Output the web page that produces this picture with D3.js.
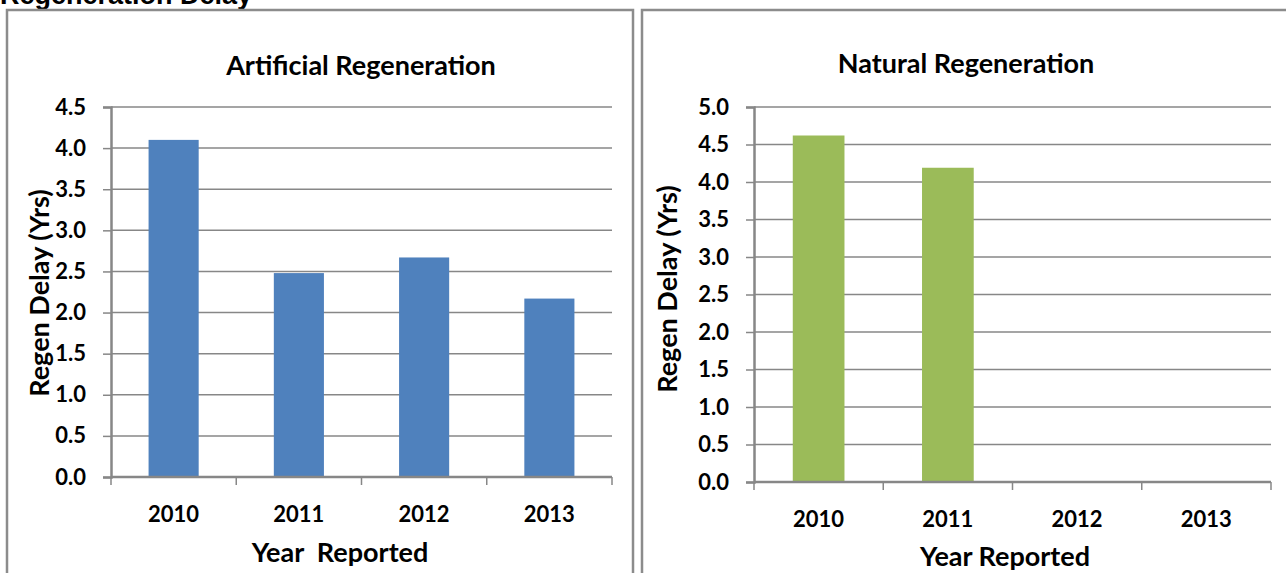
<!DOCTYPE html>
<html>
<head>
<meta charset="utf-8">
<script src="https://cdn.jsdelivr.net/npm/d3@7"></script>
<style>
  body { margin: 0; background: #fff; }
  text { font-family: Lato, "Open Sans", sans-serif; font-weight: bold; fill: #000; }
</style>
</head>
<body>
<div id="chart"></div>
<script>
const years = ['2010', '2011', '2012', '2013'];
const artificialDelay = [4.1, 2.48, 2.67, 2.17];
const naturalDelay = [4.62, 4.19, null, null];
const artificialTicks = [0, 0.5, 1, 1.5, 2, 2.5, 3, 3.5, 4, 4.5];
const naturalTicks = [0, 0.5, 1, 1.5, 2, 2.5, 3, 3.5, 4, 4.5, 5];

const svg = d3.select('#chart')
    .append('svg')
    .attr('width', 1286)
    .attr('height', 573);

svg.append('rect')
    .attr('width', 1286)
    .attr('height', 573)
    .attr('fill', '#fff');

// page heading, mostly cut off at the top
svg.append('text')
    .attr('x', 0)
    .attr('y', 4)
    .style('font-family', '"Liberation Sans", Arial, sans-serif')
    .style('font-size', '27px')
    .text('Regeneration Delay');

const gray = '#878787';

const barPanel = (props) => {
    const {
        box,
        title,
        titleX,
        titleY,
        xLabel,
        xLabelX,
        values,
        ticks,
        yMax,
        color,
        plot,
        tickLabelY,
        xLabelY,
        yLabelX,
        yLabelY
    } = props;

    svg.append('rect')
        .attr('x', box.x)
        .attr('y', box.y)
        .attr('width', box.w)
        .attr('height', box.h)
        .attr('fill', 'none')
        .attr('stroke', '#8c8c8c')
        .attr('stroke-width', 2.5);

    const xScale = d3.scaleBand()
        .domain(years)
        .range([plot.left, plot.right])
        .paddingInner(0.6)
        .paddingOuter(0.3);

    const yScale = d3.scaleLinear()
        .domain([0, yMax])
        .range([plot.bottom, plot.top]);

    const g = svg.append('g');

    // gridlines
    g.selectAll('.grid')
        .data(ticks.filter(t => t > 0))
        .enter()
        .append('line')
        .attr('x1', plot.left)
        .attr('x2', plot.right)
        .attr('y1', d => yScale(d))
        .attr('y2', d => yScale(d))
        .attr('stroke', gray)
        .attr('stroke-width', 1.5);

    // bars
    const rows = years.map((y, i) => ({ year: y, value: values[i] }))
        .filter(d => d.value != null);

    g.selectAll('.bar')
        .data(rows)
        .enter()
        .append('rect')
        .attr('x', d => xScale(d.year))
        .attr('width', xScale.bandwidth())
        .attr('y', d => yScale(d.value))
        .attr('height', d => yScale(0) - yScale(d.value))
        .attr('fill', color);

    // y axis
    const yAxis = g.append('g')
        .attr('transform', `translate(${plot.left},0)`)
        .call(d3.axisLeft(yScale)
            .tickValues(ticks)
            .tickSize(8)
            .tickPadding(17)
            .tickFormat(d3.format('.1f')));
    yAxis.select('.domain').attr('stroke', gray).attr('stroke-width', 2.5);
    yAxis.selectAll('.tick line').attr('stroke', gray).attr('stroke-width', 1.5);
    yAxis.selectAll('.tick text')
        .style('font-size', '22px')
        .attr('fill', '#000');

    // x axis with ticks on band boundaries
    const xAxis = g.append('g')
        .attr('transform', `translate(0,${plot.bottom})`);
    xAxis.append('line')
        .attr('x1', plot.left)
        .attr('x2', plot.right)
        .attr('stroke', gray)
        .attr('stroke-width', 2.5);
    const step = xScale.step();
    xAxis.selectAll('.xtick')
        .data(d3.range(years.length + 1))
        .enter()
        .append('line')
        .attr('x1', i => plot.left + i * step)
        .attr('x2', i => plot.left + i * step)
        .attr('y1', 0)
        .attr('y2', 8)
        .attr('stroke', gray)
        .attr('stroke-width', 1.5);

    g.selectAll('.xlabel')
        .data(years)
        .enter()
        .append('text')
        .attr('x', d => xScale(d) + xScale.bandwidth() / 2)
        .attr('y', tickLabelY)
        .attr('text-anchor', 'middle')
        .attr('dominant-baseline', 'central')
        .style('font-size', '22px')
        .text(d => d);

    g.append('text')
        .attr('x', titleX)
        .attr('y', titleY)
        .attr('text-anchor', 'middle')
        .attr('dominant-baseline', 'central')
        .style('font-size', '27px')
        .text(title);

    g.append('text')
        .attr('x', xLabelX)
        .attr('y', xLabelY)
        .attr('text-anchor', 'middle')
        .attr('dominant-baseline', 'central')
        .style('font-size', '27px')
        .style('white-space', 'pre')
        .attr('xml:space', 'preserve')
        .text(xLabel);

    g.append('text')
        .attr('transform', `translate(${yLabelX},${yLabelY}) rotate(-90)`)
        .attr('text-anchor', 'middle')
        .attr('dominant-baseline', 'central')
        .style('font-size', '27px')
        .text('Regen Delay (Yrs)');
};

barPanel({
    box: { x: 7, y: 10, w: 626, h: 620 },
    title: 'Artificial Regeneration',
    titleX: 361,
    titleY: 64,
    xLabel: 'Year  Reported',
    xLabelX: 340,
    values: artificialDelay,
    ticks: artificialTicks,
    yMax: 4.5,
    color: '#4f81bd',
    plot: { left: 111, right: 612, top: 107, bottom: 477 },
    tickLabelY: 513,
    xLabelY: 551,
    yLabelX: 38,
    yLabelY: 293
});

barPanel({
    box: { x: 642, y: 10, w: 700, h: 620 },
    title: 'Natural Regeneration',
    titleX: 966,
    titleY: 62,
    xLabel: 'Year Reported',
    xLabelX: 1005,
    values: naturalDelay,
    ticks: naturalTicks,
    yMax: 5,
    color: '#9bbb59',
    plot: { left: 754, right: 1271, top: 107, bottom: 482 },
    tickLabelY: 518,
    xLabelY: 555,
    yLabelX: 666,
    yLabelY: 289
});
</script>
</body>
</html>
